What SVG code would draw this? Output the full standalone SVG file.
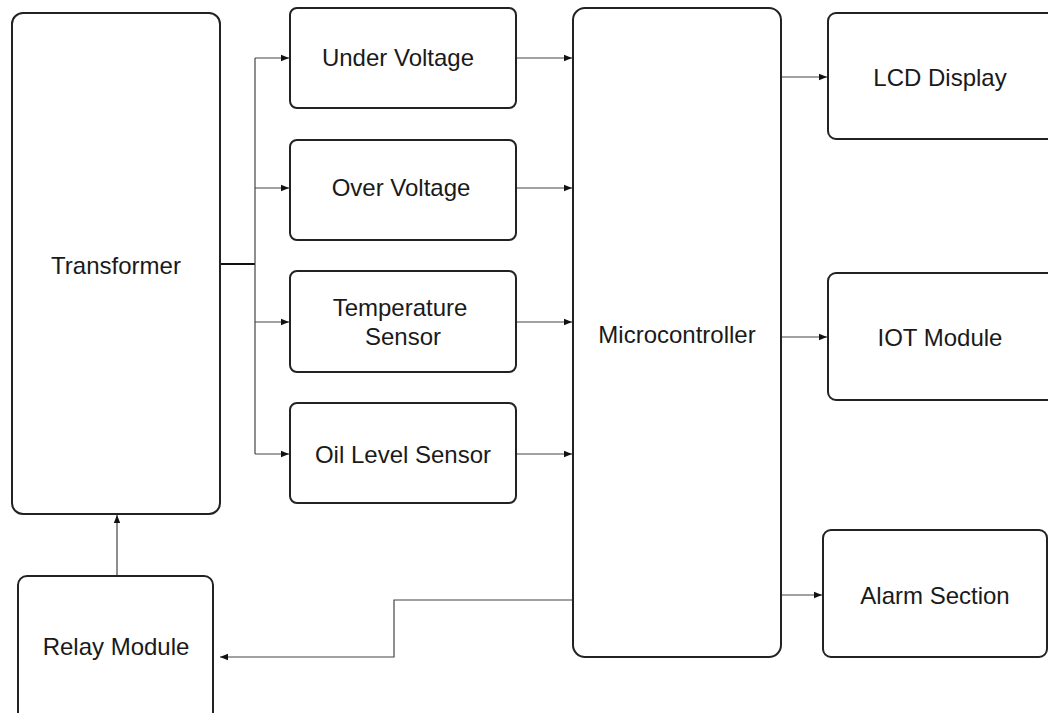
<svg xmlns="http://www.w3.org/2000/svg" width="1048" height="713" viewBox="0 0 1048 713">
<style>
.box{fill:#fff;stroke:#222;stroke-width:2}
.lbl{font-family:"Liberation Sans",Arial,Helvetica,sans-serif;font-size:24px;fill:#1a1a1a;text-anchor:middle;dominant-baseline:central}
.con{fill:none;stroke:#444;stroke-width:1.2}
</style>
<defs>
<marker id="ah" viewBox="0 0 10 10" refX="10" refY="5" markerWidth="8" markerHeight="8" markerUnits="userSpaceOnUse" orient="auto">
<path d="M0,1 L10,5 L0,9 Z" fill="#111"/>
</marker>
</defs>
<rect width="1048" height="713" fill="#fff"/>
<g id="connectors">
<path class="con" d="M220,264 H255" style="stroke-width:2.2;stroke:#111"/>
<path class="con" d="M255,58 V454"/>
<path class="con" d="M255,58 H289" marker-end="url(#ah)"/>
<path class="con" d="M255,188 H289" marker-end="url(#ah)"/>
<path class="con" d="M255,322 H289" marker-end="url(#ah)"/>
<path class="con" d="M255,454 H289" marker-end="url(#ah)"/>
<path class="con" d="M516,58 H572" marker-end="url(#ah)"/>
<path class="con" d="M516,188 H572" marker-end="url(#ah)"/>
<path class="con" d="M516,322 H572" marker-end="url(#ah)"/>
<path class="con" d="M516,454 H572" marker-end="url(#ah)"/>
<path class="con" d="M781,77 H827" marker-end="url(#ah)"/>
<path class="con" d="M781,337 H827" marker-end="url(#ah)"/>
<path class="con" d="M781,595 H822" marker-end="url(#ah)"/>
<path class="con" d="M573,600 H394 V657 H220" marker-end="url(#ah)"/>
<path class="con" d="M117,576 V515" marker-end="url(#ah)"/>
</g>
<g id="transformer"><rect class="box" x="12" y="13" width="208" height="501" rx="11"/><text class="lbl" x="116" y="265">Transformer</text></g>
<g id="under-voltage"><rect class="box" x="290" y="8" width="226" height="100" rx="7"/><text class="lbl" x="398" y="57">Under Voltage</text></g>
<g id="over-voltage"><rect class="box" x="290" y="140" width="226" height="100" rx="7"/><text class="lbl" x="401" y="187">Over Voltage</text></g>
<g id="temperature-sensor"><rect class="box" x="290" y="271" width="226" height="101" rx="7"/><text class="lbl" x="400" y="307">Temperature</text><text class="lbl" x="403" y="336">Sensor</text></g>
<g id="oil-level-sensor"><rect class="box" x="290" y="403" width="226" height="100" rx="7"/><text class="lbl" x="403" y="454">Oil Level Sensor</text></g>
<g id="microcontroller"><rect class="box" x="573" y="8" width="208" height="649" rx="12"/><text class="lbl" x="677" y="334">Microcontroller</text></g>
<g id="lcd-display"><rect class="box" x="828" y="13" width="230" height="126" rx="8"/><text class="lbl" x="940" y="77">LCD Display</text></g>
<g id="iot-module"><rect class="box" x="828" y="273" width="230" height="127" rx="8"/><text class="lbl" x="940" y="337">IOT Module</text></g>
<g id="alarm-section"><rect class="box" x="823" y="530" width="224" height="127" rx="8"/><text class="lbl" x="935" y="595">Alarm Section</text></g>
<g id="relay-module"><rect class="box" x="18" y="576" width="195" height="150" rx="9"/><text class="lbl" x="116" y="646">Relay Module</text></g>
</svg>
